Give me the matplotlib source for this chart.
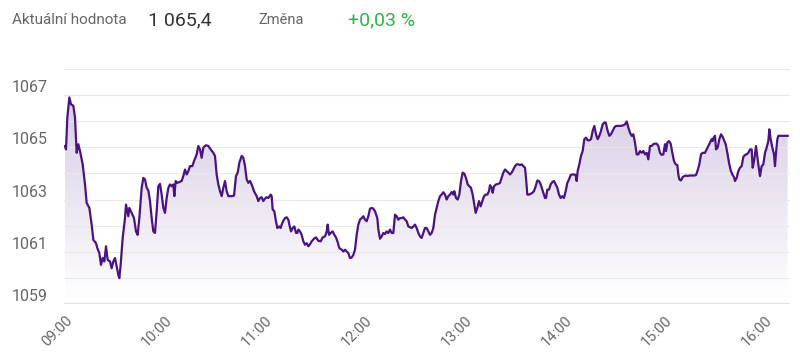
import numpy as np
import matplotlib
matplotlib.use("Agg")
import matplotlib.pyplot as plt
import matplotlib.transforms as mtransforms
from matplotlib.patches import Polygon

plt.rcParams['font.family'] = ['Roboto', 'DejaVu Sans']

# minutes after 09:00 and index value
minutes = [
    0, 0.6, 1.4, 2.6, 3.6, 5, 6, 7, 8, 9, 10.6, 12, 13, 14.6, 16, 17, 18.6, 19.4, 20.6, 21.6,
    22.6, 23.6, 24.6, 25.6, 27, 28, 29, 30, 31, 32, 32.6, 33.4, 34.6, 36, 36.6, 37.4, 38, 38.6, 40, 41.4,
    42.6, 43.6, 44.6, 46, 47, 48, 49, 50, 51, 52, 53, 54, 55, 56, 57, 58, 59, 60, 61, 62,
    63, 64, 65, 65.6, 66.4, 67.4, 68.6, 70, 71,
    72, 73, 74, 75, 76.4, 77.4, 79, 80, 81, 82, 83, 84.6, 86, 87.4, 89, 90, 91, 92, 93, 94,
    95, 96, 97, 98, 100, 101.4, 102.6, 103.6, 104.6, 106, 107, 108, 109, 110, 111, 112, 113.4, 115, 116, 117,
    118, 119, 120, 121, 122, 123.4, 124, 124.6, 125.6, 126.4, 127.4, 128.4, 129.4, 130, 131, 132, 133, 134, 134.6, 135.6,
    136.6, 137.6, 138.6, 139.4, 140, 141, 142, 143, 144,
    145, 146, 147, 148, 149.4, 150.6, 152, 153.4, 154.6, 156, 157, 157.6, 158.4, 159.4, 160.6, 161.6, 162.6, 163.6, 164.6, 166,
    167, 168, 169, 170, 171, 172, 173, 174, 175, 176, 177, 178, 179, 180, 181, 182, 183, 184, 185, 186,
    187.4, 188, 189, 190, 191, 192, 193, 194, 195, 196, 197, 198, 199, 200, 201, 202, 203, 204, 205, 206,
    207, 208, 209, 210, 211, 212, 213, 214, 215, 216,
    217, 218, 219, 220, 221, 222, 223, 224, 225, 226, 227, 228, 229, 230, 231, 232, 233,
    233.6, 234.6, 235.6, 236.6, 237.6, 238.6, 239.6, 240.6, 241.6, 242.6, 243.6, 244.6, 245.6, 246.4, 247.4,
    248.4, 249.4, 250.4, 251.4, 252.4, 253.4, 254.4, 255, 256, 256.6, 257.4, 258.6, 260, 261, 262,
    263, 264, 265, 266, 267, 268, 269, 270, 271, 272, 273, 274, 275, 276,
    276.6, 277.4, 278.4, 279.4, 280.4, 281.4, 282.4, 283.4, 284.4, 285.4, 286.4, 287.4, 288,
    288.6, 289.4, 290.4, 291.4, 292.4, 293.4, 294.4, 295.4, 296.4, 297.4, 298.4, 299.4, 300.4, 301.4, 302.4, 303.4,
    304.4, 305.4, 306.4, 307, 307.6, 308.6, 309.6, 310.6, 311.6, 312.6, 313.6, 314.6, 315.6, 316.6, 317.6, 318.6,
    319.6, 320.6, 321.6, 322.6, 323.6, 324.4, 325.6, 326.6, 327.6, 328.6, 329.6, 330.6, 331.6, 333, 334.4,
    336, 337, 338, 339, 340, 341, 342, 343, 344, 345, 346, 347, 348, 349, 350, 351, 352, 353, 354, 355,
    356, 357, 358, 359, 360,
    360.6, 361.4, 362.4, 363.4, 364.4, 365.4, 366.4, 367.4, 368, 368.6, 369.6, 370.6, 371.6, 372.6, 373.6,
    374.6, 376, 377.6, 378.6, 379.6, 380.6, 381.6, 382.6, 384, 385, 386, 387, 388, 388.6, 389.2,
    390, 390.6, 391.6, 392.6, 393.6, 394.6, 395.6, 396.4, 397.4, 398.4, 399.4, 400.4, 401.4, 402, 403,
    404, 405, 406, 407, 408, 409, 410, 411, 412, 412.6, 413.6, 414.6, 415.6, 416.4, 417,
    418, 419, 420, 421, 422, 422.6, 423.4, 424.4, 425.4, 426, 426.6, 427.4, 428, 430, 432, 433.6,
]
price = [
    1065.05, 1064.92, 1066.14, 1066.91, 1066.65, 1066.59, 1066.14, 1064.79, 1065.12, 1064.86,
    1064.35, 1063.58, 1062.87, 1062.68, 1062.04, 1061.46, 1061.33, 1061.14, 1060.95, 1060.50,
    1060.76, 1060.63, 1061.21, 1060.69, 1060.63, 1060.37, 1060.63, 1060.76, 1060.44, 1060.12,
    1059.99, 1060.50, 1061.53, 1062.29, 1062.81, 1062.55, 1062.36, 1062.68, 1062.49, 1062.29,
    1061.78, 1061.65, 1062.29, 1063.45, 1063.83, 1063.77, 1063.45, 1063.35, 1062.94, 1062.29,
    1061.78, 1061.72, 1062.55, 1063.51, 1063.60, 1063.19, 1062.68, 1062.49, 1063.06, 1063.45,
    1063.58, 1063.51, 1063.58, 1063.13, 1063.71, 1063.64, 1063.67, 1063.71, 1063.90,
    1064.15, 1063.96, 1064.09, 1064.28, 1064.28, 1064.47, 1064.73, 1065.05, 1064.92, 1064.60,
    1064.99, 1065.08, 1065.05, 1064.92, 1064.79, 1064.67, 1063.96, 1063.58, 1063.32, 1063.13,
    1063.45, 1063.71, 1063.32, 1063.13, 1063.13, 1063.15, 1063.90, 1064.03, 1064.41, 1064.67,
    1064.60, 1064.28, 1063.77, 1063.64, 1063.71, 1063.58, 1063.32, 1063.13, 1062.94, 1063.06,
    1063.09, 1062.94, 1063.04, 1063.09, 1063.06, 1063.19, 1063.13, 1062.62, 1062.55, 1062.23,
    1061.91, 1061.97, 1061.91, 1062.04, 1062.19, 1062.29, 1062.32, 1062.23, 1062.04, 1061.78,
    1061.91, 1061.97, 1061.72, 1061.72, 1061.85, 1061.78, 1061.65, 1061.40, 1061.27,
    1061.33, 1061.21, 1061.29, 1061.40, 1061.50, 1061.55, 1061.42, 1061.40, 1061.55, 1061.59,
    1061.78, 1062.04, 1061.65, 1061.72, 1061.78, 1061.65, 1061.55, 1061.37, 1061.14, 1061.08,
    1061.01, 1061.08, 1061.01, 1060.95, 1060.76, 1060.78, 1060.88, 1061.08, 1061.65, 1062.04,
    1062.23, 1062.29, 1062.36, 1062.23, 1062.17, 1062.36, 1062.65, 1062.68, 1062.65, 1062.55,
    1062.29, 1061.85, 1061.50, 1061.59, 1061.72, 1061.68, 1061.78, 1061.72, 1061.85, 1061.72,
    1061.72, 1062.42, 1062.36, 1062.23, 1062.29, 1062.29, 1062.32, 1062.23, 1062.17, 1061.97,
    1061.94, 1061.91, 1061.97, 1062.04, 1061.91, 1061.72, 1061.59, 1061.53, 1061.72, 1061.91,
    1061.91, 1061.78, 1061.65, 1061.72, 1061.91, 1062.42, 1062.68, 1062.94, 1063.13, 1063.19,
    1063.28, 1063.19, 1063.00, 1063.13, 1063.19, 1063.29, 1063.19,
    1063.32, 1063.06, 1063.00, 1063.19, 1063.71, 1064.03, 1063.99, 1063.83, 1063.58, 1063.51,
    1063.45, 1063.19, 1062.81, 1062.49, 1062.68, 1062.94, 1062.74, 1062.94, 1063.13, 1063.19,
    1063.19, 1063.32, 1063.55, 1063.45, 1063.26, 1063.51, 1063.58, 1063.60, 1063.64, 1063.83,
    1064.03, 1064.15, 1064.09, 1064.03, 1063.96, 1064.03, 1064.15, 1064.28, 1064.35, 1064.35,
    1064.32, 1064.35, 1064.28, 1064.22,
    1063.83, 1063.19, 1063.19, 1063.22, 1063.26, 1063.32, 1063.51, 1063.73, 1063.71, 1063.58,
    1063.38, 1063.19, 1063.06,
    1063.06, 1063.38, 1063.38, 1063.58, 1063.67, 1063.71, 1063.58, 1063.45, 1063.19, 1063.06,
    1063.13, 1063.06, 1063.32, 1063.64, 1063.77, 1063.94, 1063.96, 1063.96, 1063.94, 1063.71,
    1064.09, 1064.35, 1064.67, 1064.86, 1065.31, 1065.37, 1065.27, 1065.27, 1065.31, 1065.63,
    1065.82, 1065.50, 1065.31, 1065.44, 1065.63, 1065.88, 1065.95, 1065.95, 1065.63, 1065.44,
    1065.50, 1065.63, 1065.76, 1065.82, 1065.82, 1065.82, 1065.83,
    1065.88, 1065.99, 1065.76, 1065.56, 1065.44, 1065.50, 1065.18, 1064.73, 1064.73, 1064.86,
    1064.79, 1064.86, 1064.73, 1064.79, 1064.54, 1065.05, 1065.05, 1065.12, 1065.14, 1065.14,
    1065.05, 1064.79, 1064.71, 1064.73, 1065.12,
    1064.86, 1065.18, 1065.24, 1065.14, 1064.79, 1064.47, 1064.35, 1064.32, 1063.96, 1063.77,
    1063.73, 1063.86, 1063.90, 1063.92, 1063.90, 1063.92, 1063.92, 1063.92, 1063.94, 1064.12,
    1064.35, 1064.73, 1064.79, 1064.79, 1064.92, 1065.05, 1065.18, 1065.31, 1065.24, 1065.37,
    1065.44, 1064.92, 1064.99, 1065.31, 1065.50, 1065.40, 1065.24, 1065.12, 1064.79, 1064.41,
    1064.12, 1063.96, 1063.86, 1063.71, 1063.83, 1064.09, 1064.22, 1064.28, 1064.63, 1064.71,
    1064.73, 1064.79, 1064.92, 1064.92, 1064.22, 1064.54, 1065.05, 1064.54, 1064.15, 1063.90,
    1064.28, 1064.35, 1064.79, 1064.99, 1065.24, 1065.69, 1065.31, 1064.99, 1064.73, 1064.28,
    1064.79, 1065.31, 1065.44, 1065.44, 1065.44, 1065.44,
]

hour_ticks = [0, 60, 120, 180, 240, 300, 360, 420]
hour_labels = ["09:00", "10:00", "11:00", "12:00", "13:00", "14:00", "15:00", "16:00"]
y_ticks = [1059, 1060, 1061, 1062, 1063, 1064, 1065, 1066, 1067, 1068]

current_value = "1 065,4"
change = "+0,03 %"

line_color = "#4a1382"
y_min, y_max = 1059, 1068

fig = plt.figure(figsize=(8, 3.63), dpi=100)
ax = fig.add_axes([0.08, 0.1625, 0.9075, 0.6475])
ax.set_xlim(-0.6, 435)
ax.set_ylim(y_min, y_max)

# gradient area under the line
grad = np.zeros((256, 2, 4))
grad[..., 0] = 0.35
grad[..., 1] = 0.15
grad[..., 2] = 0.55
grad[..., 3] = np.linspace(0.24, 0.0, 256)[:, None]
img = ax.imshow(grad, extent=[minutes[0], minutes[-1], y_min, 1067], origin="upper",
                aspect="auto", zorder=1, interpolation="bilinear")
verts = [(minutes[0], y_min)] + list(zip(minutes, price)) + [(minutes[-1], y_min)]
clip = Polygon(verts, closed=True, facecolor="none", edgecolor="none")
ax.add_patch(clip)
img.set_clip_path(clip)

ax.plot(minutes, price, color=line_color, lw=1.6, zorder=3, solid_joinstyle="round")

# grid
ax.set_yticks(y_ticks)
ax.set_yticklabels([str(v) if v % 2 == 1 and v < 1068 else "" for v in y_ticks])
ax.yaxis.grid(True, color="#e9e9e9", lw=0.8, zorder=0)
ax.axhline(y_min, color="#e3e3e3", lw=1.6, zorder=2)
for s in ax.spines.values():
    s.set_visible(False)

ax.tick_params(axis="y", length=0, pad=37.5, labelsize=11.5, labelcolor="#666666")
shift = mtransforms.ScaledTranslation(0, 3 / 100, fig.dpi_scale_trans)
for lab in ax.get_yticklabels():
    lab.set_horizontalalignment("left")
    lab.set_verticalalignment("baseline")
    lab.set_transform(lab.get_transform() + shift)

ax.set_xticks(hour_ticks)
ax.set_xticklabels(hour_labels, rotation=45, ha="right", rotation_mode="anchor")
ax.tick_params(axis="x", length=0, pad=7, labelsize=10.5, labelcolor="#666666")

# header
fig.text(12 / 800, 1 - 20 / 363, "Aktuální hodnota", fontsize=11, color="#666666", va="center")
fig.text(148 / 800, 1 - 20 / 363, current_value, fontsize=14, color="#333333", va="center")
fig.text(258 / 800, 1 - 20 / 363, "Změna", fontsize=10.5, color="#666666", va="center")
fig.text(348 / 800, 1 - 20 / 363, change, fontsize=14, color="#34b34a", va="center")

fig.savefig("out.png", dpi=100)
